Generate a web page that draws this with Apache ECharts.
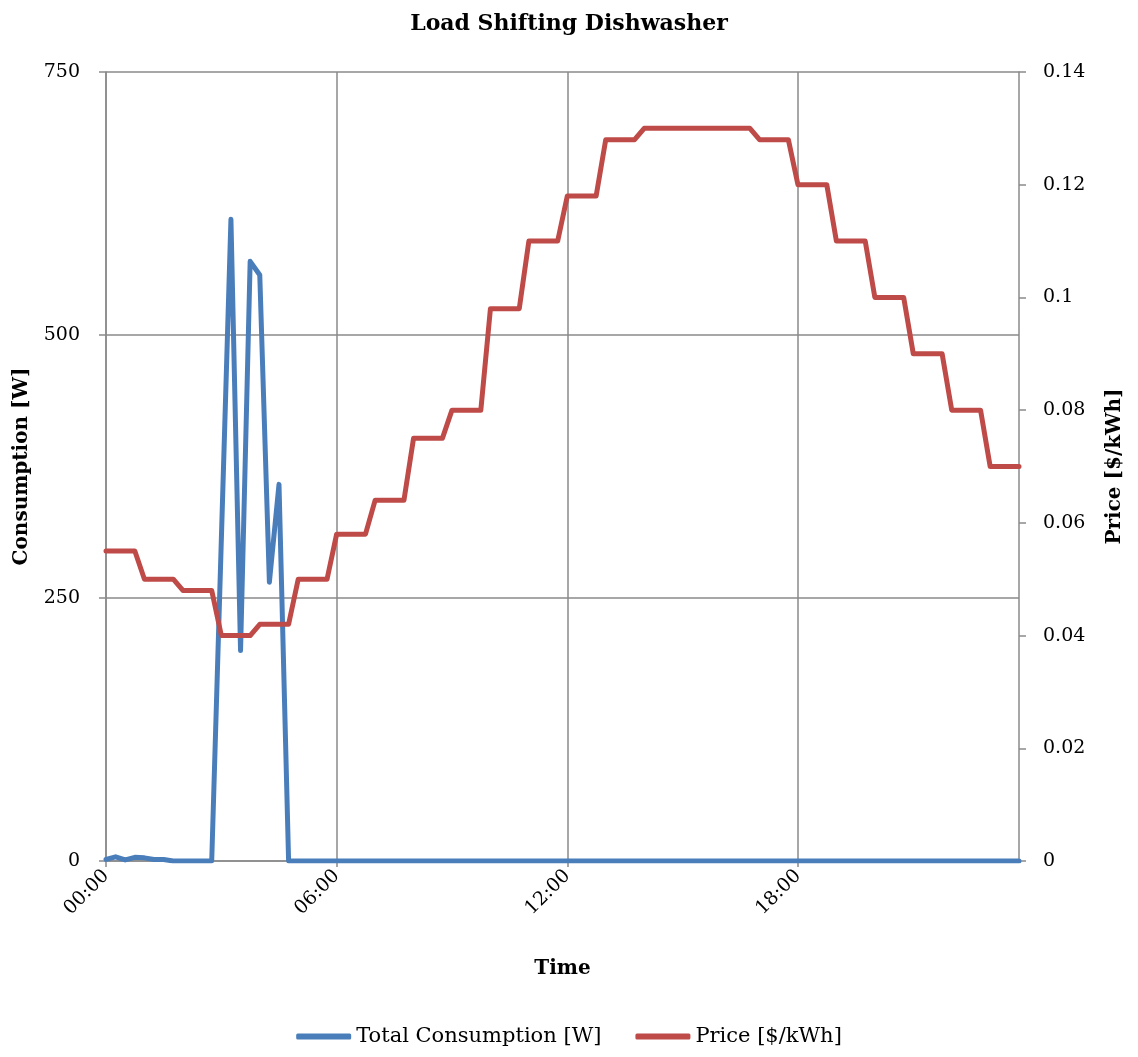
<!DOCTYPE html>
<html lang="en">
<head>
    <meta charset="UTF-8">
    <script src="https://cdn.jsdelivr.net/npm/echarts@6/dist/echarts.min.js"></script>
    <title>Load Shifting Dishwasher</title>
    <style>
        body { margin: 0; background: #fff; }
        #main { width: 1138px; height: 1057px; }
    </style>
</head>
<body>
<div id="main"></div>
<script>
    // 15-minute slots over one day
    var times = [];
    for (var h = 0; h < 24; h++) {
        for (var m = 0; m < 60; m += 15) {
            times.push((h < 10 ? '0' : '') + h + ':' + (m < 10 ? '0' : '') + m);
        }
    }

    // total consumption in W, per 15 min slot
    var consumption = [
        1.5, 4, 1, 3.5, 3, 1.5, 1.5, 0, 0, 0, 0, 0,
        305, 610, 200, 570, 557, 265, 358, 0, 0, 0, 0, 0,
        0, 0, 0, 0, 0, 0, 0, 0, 0, 0, 0, 0,
        0, 0, 0, 0, 0, 0, 0, 0, 0, 0, 0, 0,
        0, 0, 0, 0, 0, 0, 0, 0, 0, 0, 0, 0,
        0, 0, 0, 0, 0, 0, 0, 0, 0, 0, 0, 0,
        0, 0, 0, 0, 0, 0, 0, 0, 0, 0, 0, 0,
        0, 0, 0, 0, 0, 0, 0, 0, 0, 0, 0, 0
    ];

    // hourly price in $/kWh
    var hourlyPrice = [
        0.055, 0.050, 0.048, 0.040, 0.042, 0.050, 0.058, 0.064,
        0.075, 0.080, 0.098, 0.110, 0.118, 0.128, 0.130, 0.130,
        0.130, 0.128, 0.120, 0.110, 0.100, 0.090, 0.080, 0.070
    ];

    var price = [];
    for (var i = 0; i < times.length; i++) {
        price.push(hourlyPrice[Math.floor(i / 4)]);
    }

    var font = 'DejaVu Serif';
    var gridColor = '#8a8a8a';

    var myChart = echarts.init(document.getElementById('main'));
    var option = {
        backgroundColor: '#fff',
        textStyle: { fontFamily: font, color: '#000' },
        title: {
            text: 'Load Shifting Dishwasher',
            left: 'center',
            top: 8,
            textStyle: { fontFamily: font, fontSize: 22, fontWeight: 'bold', color: '#000' }
        },
        legend: {
            bottom: 5,
            left: 'center',
            itemWidth: 55,
            itemHeight: 6,
            itemGap: 34,
            icon: 'roundRect',
            textStyle: { fontFamily: font, fontSize: 21, color: '#000' },
            data: ['Total Consumption [W]', 'Price [$/kWh]']
        },
        grid: { left: 106, right: 119, top: 72, bottom: 196, outerBoundsMode: 'none' },
        xAxis: {
            type: 'category',
            data: times,
            boundaryGap: false,
            name: 'Time',
            nameLocation: 'middle',
            nameGap: 98,
            nameTextStyle: { fontFamily: font, fontSize: 20, fontWeight: 'bold', color: '#000' },
            axisLine: { lineStyle: { color: gridColor, width: 1.5 } },
            axisTick: { show: true, interval: 23, length: 6, lineStyle: { color: gridColor, width: 1.5 } },
            axisLabel: {
                interval: 23,
                rotate: 45,
                margin: 12,
                fontFamily: font,
                fontSize: 19,
                color: '#000'
            },
            splitLine: { show: true, interval: 23, lineStyle: { color: gridColor, width: 1.5 } }
        },
        yAxis: [{
            type: 'value',
            min: 0,
            max: 750,
            interval: 250,
            name: 'Consumption [W]',
            nameLocation: 'middle',
            nameGap: 74,
            nameTextStyle: { fontFamily: font, fontSize: 20, fontWeight: 'bold', color: '#000' },
            axisLine: { show: true, lineStyle: { color: gridColor, width: 1.5 } },
            axisTick: { show: true, length: 7, lineStyle: { color: gridColor, width: 1.5 } },
            axisLabel: { margin: 26, fontFamily: font, fontSize: 19, color: '#000' },
            splitLine: { show: true, lineStyle: { color: gridColor, width: 1.5 } }
        }, {
            type: 'value',
            min: 0,
            max: 0.14,
            interval: 0.02,
            position: 'right',
            name: 'Price [$/kWh]',
            nameLocation: 'middle',
            nameGap: 86,
            nameRotate: 90,
            nameTextStyle: { fontFamily: font, fontSize: 20, fontWeight: 'bold', color: '#000' },
            axisLine: { show: true, lineStyle: { color: gridColor, width: 1.5 } },
            axisTick: { show: true, length: 7, lineStyle: { color: gridColor, width: 1.5 } },
            axisLabel: {
                margin: 24,
                fontFamily: font,
                fontSize: 19,
                color: '#000',
                formatter: function (v) { return String(Math.round(v * 100) / 100); }
            },
            splitLine: { show: false }
        }],
        series: [{
            name: 'Total Consumption [W]',
            type: 'line',
            yAxisIndex: 0,
            data: consumption,
            showSymbol: false,
            symbol: 'none',
            lineStyle: { color: '#4a7ebb', width: 5, cap: 'round', join: 'round' },
            itemStyle: { color: '#4a7ebb' }
        }, {
            name: 'Price [$/kWh]',
            type: 'line',
            yAxisIndex: 1,
            data: price,
            showSymbol: false,
            symbol: 'none',
            lineStyle: { color: '#be4b48', width: 5, cap: 'round', join: 'round' },
            itemStyle: { color: '#be4b48' }
        }],
        animation: false
    };
    myChart.setOption(option);
</script>
</body>
</html>
